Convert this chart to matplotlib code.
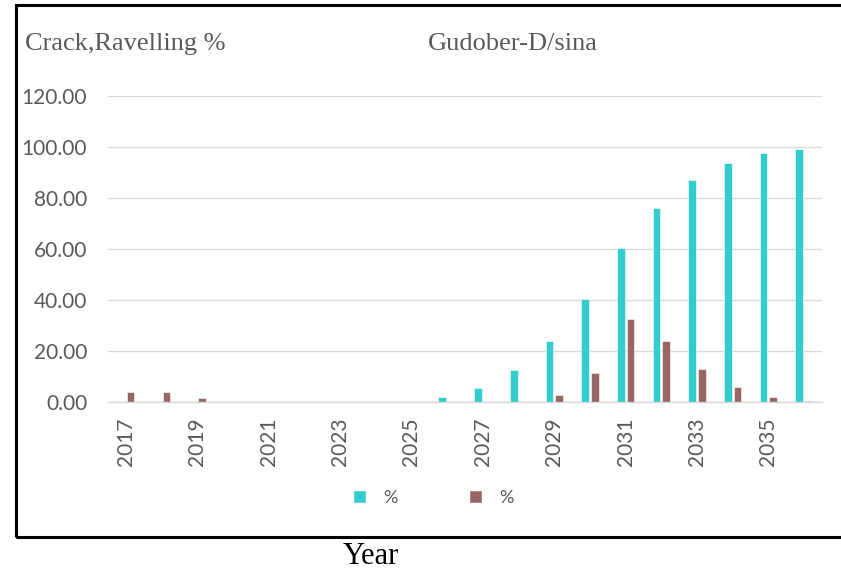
import numpy as np
import matplotlib
matplotlib.use('Agg')
import matplotlib.pyplot as plt
from matplotlib.patches import Rectangle

# --- Datos ---
anios = list(range(2017, 2037))
crack = [0, 0, 0, 0, 0, 0, 0, 0, 0, 1.9, 5.5, 12.6, 23.9, 40.3, 60.4, 76.2, 86.9, 93.7, 97.6, 99.3]
ravelling = [3.9, 3.9, 1.7, 0, 0, 0, 0, 0, 0, 0, 0, 0, 2.7, 11.4, 32.7, 23.8, 12.9, 6.0, 2.1, 0.4]
ticks_y = [0, 20, 40, 60, 80, 100, 120]

CIAN = '#33CCCC'
CAFE = '#996666'
GRIS = '#595959'
FUENTE = ['Lato', 'DejaVu Sans']
SERIF = ['Liberation Serif', 'DejaVu Serif']

fig = plt.figure(figsize=(8.41, 5.76), dpi=100)
ax = fig.add_axes([0.1284, 0.3021, 0.849, 0.5312])

x = np.arange(len(anios))
ancho = 0.215
ax.bar(x - 0.135, crack, width=ancho, color=CIAN, edgecolor='white', linewidth=0.4, label='%', zorder=2)
ax.bar(x + 0.135, ravelling, width=ancho, color=CAFE, edgecolor='white', linewidth=0.4, label='%', zorder=2)

ax.set_xlim(-0.5, len(anios) - 0.5)
ax.set_ylim(0, 120)
ax.set_yticks(ticks_y)
ax.set_yticklabels([f'{v:.2f}' for v in ticks_y], fontsize=15, color=GRIS, family=FUENTE)
ax.set_xticks(x[::2])
ax.set_xticklabels([str(a) for a in anios[::2]], rotation=90, fontsize=15, color=GRIS, family=FUENTE)
ax.tick_params(axis='both', length=0)
ax.tick_params(axis='y', pad=15)
ax.tick_params(axis='x', pad=11)
ax.grid(axis='y', color='#D9D9D9', linewidth=1, zorder=0)
ax.set_axisbelow(True)
for lado in ['top', 'right', 'left']:
    ax.spines[lado].set_visible(False)
ax.spines['bottom'].set_color('#D9D9D9')
ax.spines['bottom'].set_linewidth(1)

# Títulos
fig.text(25 / 841, 1 - 44 / 576, 'Crack,Ravelling %', fontsize=19, color=GRIS, family=SERIF, va='center')
fig.text(428 / 841, 1 - 44 / 576, 'Gudober-D/sina', fontsize=19, color=GRIS, family=SERIF, va='center')

# Leyenda
leg = fig.legend(loc='center', bbox_to_anchor=(434 / 841, 1 - 498 / 576), ncol=2, frameon=False,
                 handlelength=0.62, handleheight=0.62, handletextpad=1.0, columnspacing=4.0,
                 borderpad=0, prop={'family': FUENTE, 'size': 13})
for t in leg.get_texts():
    t.set_color(GRIS)
for h in leg.legend_handles:
    h.set_edgecolor(h.get_facecolor())

# Marco
fig.patches.append(Rectangle((16 / 841, 1 - 537 / 576), 830 / 841, 532 / 576, transform=fig.transFigure,
                             fill=False, edgecolor='black', linewidth=2.2, clip_on=False))

fig.text(371 / 841, 1 - 556 / 576, 'Year', fontsize=22, color='black', family=SERIF, ha='center', va='center')

fig.savefig('out.png', dpi=100, facecolor='white')
